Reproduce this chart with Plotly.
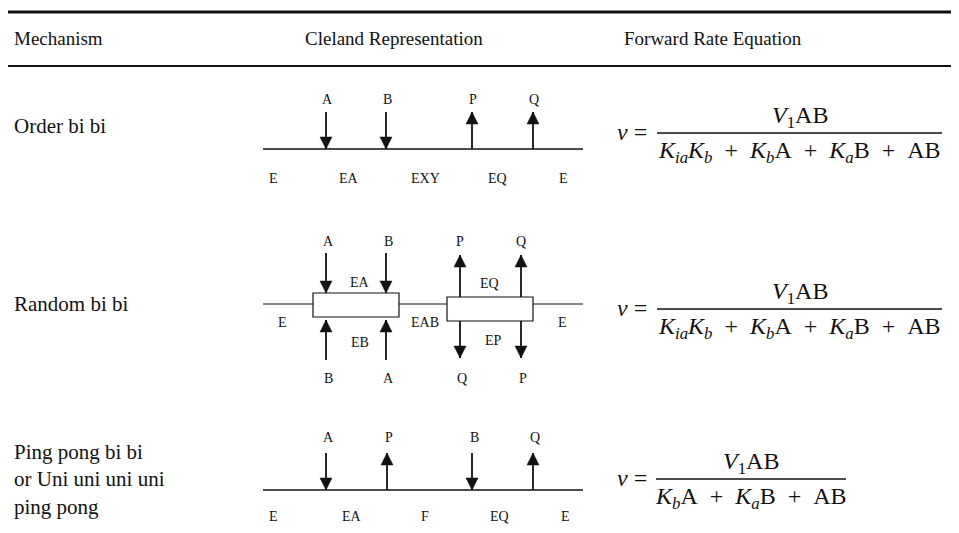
import plotly.graph_objects as go

# ---------------- data ----------------
headers = ["Mechanism", "Cleland Representation", "Forward Rate Equation"]
mechanisms = ["Order bi bi", "Random bi bi", "Ping pong bi bi<br>or Uni uni uni uni<br>ping pong"]

order_species = ["A", "B", "P", "Q"]
order_dirs = ["in", "in", "out", "out"]
order_forms = ["E", "EA", "EXY", "EQ", "E"]

random_top = ["A", "B", "P", "Q"]
random_bottom = ["B", "A", "Q", "P"]
random_box_forms = ["EA", "EB", "EQ", "EP"]
random_forms = ["E", "EAB", "E"]

pingpong_species = ["A", "P", "B", "Q"]
pingpong_dirs = ["in", "out", "in", "out"]
pingpong_forms = ["E", "EA", "F", "EQ", "E"]

SP = "\u2002"  # math-like spacing around operators
numerators = ["<i>V</i><sub>1</sub>AB"] * 3
denominators = [
    f"<i>K</i><sub><i>ia</i></sub><i>K</i><sub><i>b</i></sub>{SP}+{SP}<i>K</i><sub><i>b</i></sub>A{SP}+{SP}<i>K</i><sub><i>a</i></sub>B{SP}+{SP}AB",
    f"<i>K</i><sub><i>ia</i></sub><i>K</i><sub><i>b</i></sub>{SP}+{SP}<i>K</i><sub><i>b</i></sub>A{SP}+{SP}<i>K</i><sub><i>a</i></sub>B{SP}+{SP}AB",
    f"<i>K</i><sub><i>b</i></sub>A{SP}+{SP}<i>K</i><sub><i>a</i></sub>B{SP}+{SP}AB",
]

# ---------------- layout constants ----------------
W, H = 959, 533
OFF = 8  # page body margin of the html page
SERIF = "Liberation Serif, Times New Roman, serif"
BLACK = "#111111"

fig = go.Figure()
shapes = []
ann = []


def line(x0, y0, x1, y1, w=1.6):
    shapes.append(dict(type="line", x0=x0, y0=y0, x1=x1, y1=y1,
                       line=dict(color=BLACK, width=w), layer="above"))


def text(x, y, s, size=14, xanchor="center", align="center"):
    ann.append(dict(x=x, y=y, text=s, showarrow=False, xanchor=xanchor,
                    yanchor="middle", align=align,
                    font=dict(family=SERIF, size=size, color=BLACK)))


def head(x, tip, direction, hw=6, hl=12):
    base = tip - hl if direction == "down" else tip + hl
    shapes.append(dict(type="path",
                       path=f"M {x-hw},{base} L {x+hw},{base} L {x},{tip} Z",
                       fillcolor=BLACK, line=dict(color=BLACK, width=0.5), layer="above"))


def arrow(x, y_top, y_bot, direction):
    line(x, y_top, x, y_bot, 1.8)
    if direction == "down":
        head(x, y_bot, "down")
    else:
        head(x, y_top, "up")


# rules
line(5, 12, W, 12, 3.2)
line(5, 66, W, 66, 1.8)

# headers
text(12, 38, headers[0], size=19, xanchor="left")
text(394, 38, headers[1], size=19)
text(713, 38, headers[2], size=19)

# mechanism names
text(12, 126, mechanisms[0], size=21, xanchor="left", align="left")
text(12, 304, mechanisms[1], size=21, xanchor="left", align="left")
text(12, 479, mechanisms[2], size=21, xanchor="left", align="left")

# ---------- row 1 : ordered ----------
xs4 = [326, 386, 472, 533]
form_x = [273, 349, 425, 497, 563]
y_line1 = 149
line(263, y_line1, 583, y_line1, 1.6)
for x, s, d in zip(xs4, order_species, order_dirs):
    arrow(x, 112, y_line1, "down" if d == "in" else "up")
    text(x + 1, 99, s)
for x, s in zip(form_x, order_forms):
    text(x, 178, s)

# ---------- row 2 : random ----------
y_line2 = 304
line(263, y_line2, 313, y_line2, 1.2)
line(399, y_line2, 447, y_line2, 1.2)
line(533, y_line2, 583, y_line2, 1.2)
shapes.append(dict(type="rect", x0=313, x1=399, y0=293, y1=317,
                   line=dict(color=BLACK, width=1.2), layer="above"))
shapes.append(dict(type="rect", x0=447, x1=533, y0=297, y1=321,
                   line=dict(color=BLACK, width=1.2), layer="above"))
xs_r = [326, 386, 460, 521]
for x, s in zip(xs_r[:2], random_top[:2]):
    arrow(x, 253, 293, "down")
    text(x + 2, 241, s)
for x, s in zip(xs_r[2:], random_top[2:]):
    arrow(x, 255, 297, "up")
    text(x, 241, s)
for x, s in zip(xs_r[:2], random_bottom[:2]):
    arrow(x, 320, 360, "up")
    text(x + 2, 378, s)
for x, s in zip(xs_r[2:], random_bottom[2:]):
    arrow(x, 321, 358, "down")
    text(x + 2, 378, s)
text(360, 282, random_box_forms[0])
text(360, 342, random_box_forms[1])
text(489, 283, random_box_forms[2])
text(493, 340, random_box_forms[3])
text(282, 322, random_forms[0])
text(425, 322, random_forms[1])
text(562, 322, random_forms[2])

# ---------- row 3 : ping pong ----------
xs_p = [326, 387, 472, 533]
form_xp = [273, 352, 425, 499, 565]
y_line3 = 490
line(263, y_line3, 583, y_line3, 1.4)
for x, s, d in zip(xs_p, pingpong_species, pingpong_dirs):
    arrow(x, 453, y_line3, "down" if d == "in" else "up")
    text(x + 2, 437, s)
for x, s in zip(form_xp, pingpong_forms):
    text(x, 516, s)

# ---------- equations ----------
eq_rows = [(133, 657, 942), (309, 657, 942), (479, 656, 846)]
for (yb, x0, x1), num, den in zip(eq_rows, numerators, denominators):
    text(632, yb - 1, "<i>v</i> =", size=24)
    line(x0, yb, x1, yb, 1.4)
    text((x0 + x1) / 2, yb - 16, num, size=24)
    text((x0 + x1) / 2, yb + 19, den, size=24)

fig.update_layout(
    width=W - OFF, height=H - OFF,
    margin=dict(l=0, r=0, t=0, b=0),
    paper_bgcolor="white", plot_bgcolor="white",
    xaxis=dict(range=[OFF, W], visible=False, fixedrange=True),
    yaxis=dict(range=[H, OFF], visible=False, fixedrange=True),
    shapes=shapes, annotations=ann, showlegend=False,
)

fig.write_html("out.html")
